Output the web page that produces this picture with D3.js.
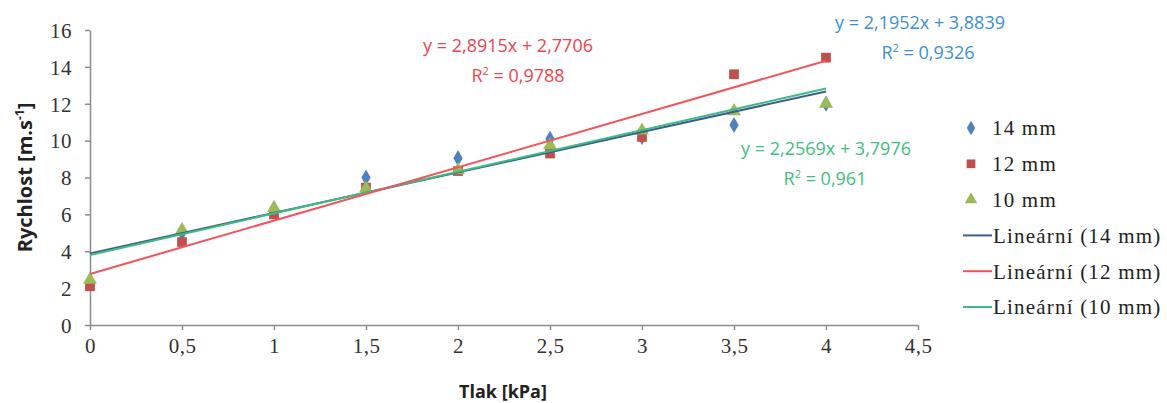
<!DOCTYPE html>
<html>
<head>
<meta charset="utf-8">
<script src="https://cdn.jsdelivr.net/npm/d3@7"></script>
<style>
  html, body { margin: 0; padding: 0; background: #fff; }
  svg { display: block; }
</style>
</head>
<body>
<svg id="chart" width="1167" height="403"></svg>
<script>
// Pressure steps (kPa)
const pressure = [0, 0.5, 1, 1.5, 2, 2.5, 3, 3.5, 4];

// Measured velocities (m/s) per nozzle diameter
const v14 = [2.4, 5.0, 6.3, 8.0, 9.05, 10.1, 10.2, 10.85, 12.0];
const v12 = [2.1, 4.5, 6.0, 7.45, 8.35, 9.3, 10.2, 13.6, 14.5];
const v10 = [2.45, 5.15, 6.35, 7.4, 8.4, 9.75, 10.55, 11.6, 12.0];

// Linear trend coefficients
const slopes = [2.1952, 2.8915, 2.2569];
const intercepts = [3.8839, 2.7706, 3.7976];
const rSquared = ["0,9326", "0,9788", "0,961"];

const seriesNames = ["14 mm", "12 mm", "10 mm"];
const xTicks = [0, 0.5, 1, 1.5, 2, 2.5, 3, 3.5, 4, 4.5];
const yTicks = [0, 2, 4, 6, 8, 10, 12, 14, 16];

const markerColors = ["#4F81BD", "#C0504D", "#9BBB59"];
const trendColors = ["#3F5E8C", "#F2545E", "#3DBB82"];
const labelColors = ["#3C8FD0", "#EE4450", "#3FBE7E"];

const serif = "'Liberation Serif', 'DejaVu Serif', serif";
const sans = "'Open Sans', 'Noto Sans', sans-serif";

const svg = d3.select("#chart");
const x = d3.scaleLinear().domain([0, 4.5]).range([90, 918]);
const y = d3.scaleLinear().domain([0, 16]).range([325, 30]);

const fmt = v => String(v).replace(".", ",");

// Axes
const xAxis = svg.append("g").attr("transform", `translate(0,${y(0)})`)
  .call(d3.axisBottom(x).tickValues(xTicks).tickFormat(fmt).tickSize(5).tickSizeOuter(0));
const yAxis = svg.append("g").attr("transform", `translate(${x(0)},0)`)
  .call(d3.axisLeft(y).tickValues(yTicks).tickSize(5).tickSizeOuter(0));

[xAxis, yAxis].forEach(g => {
  g.select(".domain").attr("stroke", "#8c8c8c").attr("stroke-width", 1.5);
  g.selectAll(".tick line").attr("stroke", "#8c8c8c").attr("stroke-width", 1.5);
  g.selectAll(".tick text")
    .attr("font-family", serif)
    .attr("font-size", 21).attr("fill", "#333")
    .attr("letter-spacing", 0.5);
});
xAxis.selectAll(".tick text").attr("y", 12).attr("dy", "0.75em");
yAxis.selectAll(".tick text").attr("x", -18).attr("dy", "0.35em");

// Axis titles
svg.append("text")
  .attr("x", 503).attr("y", 398)
  .attr("text-anchor", "middle")
  .attr("font-family", sans).attr("font-weight", "bold")
  .attr("font-size", 18).attr("fill", "#222")
  .text("Tlak [kPa]");

const yTitle = svg.append("text")
  .attr("transform", `translate(32,${y(8)}) rotate(-90)`)
  .attr("text-anchor", "middle")
  .attr("font-family", sans).attr("font-weight", "bold")
  .attr("font-size", 20).attr("fill", "#222");
yTitle.append("tspan").text("Rychlost [m.s");
yTitle.append("tspan").attr("font-size", 12).attr("dy", -8).text("-1");
yTitle.append("tspan").attr("dy", 8).text("]");

// Markers
const values = [v14, v12, v10];
const symbols = [d3.symbolDiamond, d3.symbolSquare, d3.symbolTriangle];
const sizes = [75, 95, 85];

values.forEach((vals, i) => {
  const sym = d3.symbol().type(symbols[i]).size(sizes[i]);
  svg.append("g").selectAll("path")
    .data(pressure.map((p, k) => [p, vals[k]]))
    .join("path")
    .attr("d", sym)
    .attr("transform", d => `translate(${x(d[0])},${y(d[1])})`)
    .attr("fill", markerColors[i]);
});

// Trend lines over the measured range
const line = d3.line().x(d => x(d[0])).y(d => y(d[1]));
[0, 2, 1].forEach(i => {
  const ends = [0, 4].map(p => [p, intercepts[i] + slopes[i] * p]);
  svg.append("path")
    .attr("d", line(ends))
    .attr("fill", "none")
    .attr("stroke", trendColors[i])
    .attr("stroke-width", 2);
});

// Equation labels
const eqPos = [[920, 29], [508, 52], [826, 155]];
const rPos = [[928, 59], [518, 82], [825, 185]];
slopes.forEach((s, i) => {
  const g = svg.append("g")
    .attr("font-family", sans)
    .attr("font-size", 18).attr("fill", labelColors[i]);
  g.append("text").attr("x", eqPos[i][0]).attr("y", eqPos[i][1])
    .attr("text-anchor", "middle")
    .text(`y = ${fmt(s)}x  + ${fmt(intercepts[i])}`);
  const r = g.append("text").attr("x", rPos[i][0]).attr("y", rPos[i][1])
    .attr("text-anchor", "middle");
  r.append("tspan").text("R");
  r.append("tspan").attr("font-size", 11).attr("dy", -7).text("2");
  r.append("tspan").attr("dy", 7).text(` = ${rSquared[i]}`);
});

// Legend
const legend = svg.append("g")
  .attr("font-family", serif)
  .attr("font-size", 21).attr("fill", "#222")
  .attr("letter-spacing", 1.2);
const rowY = d3.range(6).map(k => 128 + k * 35.8);
seriesNames.forEach((name, i) => {
  legend.append("path")
    .attr("d", d3.symbol().type(symbols[i]).size(sizes[i] * 0.8)())
    .attr("transform", `translate(971,${rowY[i]})`)
    .attr("fill", markerColors[i]);
  legend.append("text").attr("x", 992).attr("y", rowY[i]).attr("dy", "0.35em").text(name);
});
seriesNames.forEach((name, i) => {
  const yy = rowY[3 + i];
  legend.append("line")
    .attr("x1", 963).attr("x2", 992).attr("y1", yy).attr("y2", yy)
    .attr("stroke", trendColors[i]).attr("stroke-width", 2);
  legend.append("text").attr("x", 993).attr("y", yy).attr("dy", "0.35em")
    .text(`Lineární (${name})`);
});
</script>
</body>
</html>
